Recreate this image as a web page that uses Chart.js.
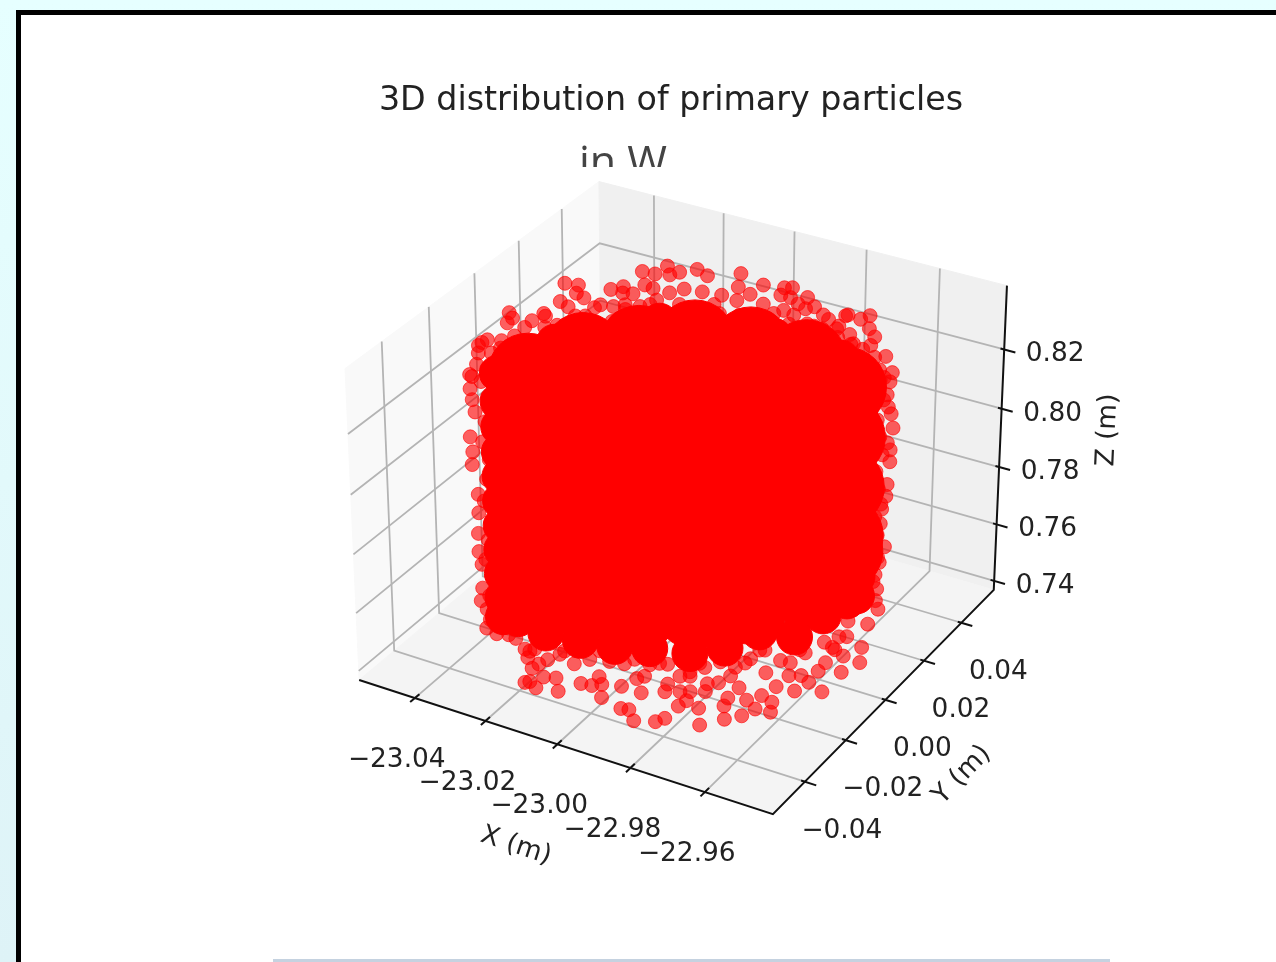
<!DOCTYPE html>
<html>
<head>
<meta charset="utf-8">
<title>3D distribution of primary particles</title>
<script src="https://cdn.jsdelivr.net/npm/chart.js@4"></script>
<style>
html, body { margin: 0; padding: 0; width: 1276px; height: 962px; overflow: hidden; background: linear-gradient(#e6ffff, #def3f7); }
#frame { position: absolute; left: 16px; top: 10px; width: 1260px; height: 952px; box-sizing: border-box; border-left: 5px solid #000; border-top: 5px solid #000; background: #fff; }
#strip { position: absolute; left: 273px; top: 959px; width: 837px; height: 3px; background: #c5d2e0; }
#particles { position: absolute; left: 0; top: 0; filter: blur(0.6px); }
</style>
</head>
<body>
<div id="frame"></div>
<div id="strip"></div>
<canvas id="particles" width="1276" height="962"></canvas>
<script>
// axis limits and ticks
const xLim = [-23.056, -22.942];
const yLim = [-0.0552, 0.0578];
const zLim = [0.7368, 0.8412];
const xTicks = [-23.04, -23.02, -23.00, -22.98, -22.96];
const yTicks = [-0.04, -0.02, 0.00, 0.02, 0.04];
const zTicks = [0.74, 0.76, 0.78, 0.80, 0.82];

// sparse particles round the outside of the cloud
const particleX = [
  -23.0471,-23.0437,-23.0419,-23.0390,-23.0430,-23.0399,-23.0341,-23.0359,-23.0507,-23.0485,-23.0483,-23.0432,-23.0437,-23.0372,-23.0482,-23.0478,-23.0481,
  -23.0428,-23.0432,-23.0338,-23.0304,-23.0299,-23.0270,-23.0356,-23.0337,-23.0321,-23.0297,-23.0296,-23.0269,-23.0304,-23.0271,-23.0248,-23.0230,-23.0222,
  -23.0221,-23.0267,-23.0226,-23.0187,-23.0256,-23.0121,-23.0043,-22.9991,-22.9974,-22.9953,-22.9980,-23.0047,-23.0091,-23.0059,-23.0201,-23.0155,-23.0105,
  -22.9917,-22.9893,-22.9879,-22.9791,-22.9740,-22.9751,-22.9710,-22.9679,-22.9737,-22.9707,-22.9667,-22.9935,-22.9948,-22.9950,-23.0016,-22.9818,-22.9778,
  -23.0439,-23.0424,-23.0389,-23.0368,-23.0439,-23.0435,-23.0430,-23.0441,-23.0439,-23.0437,-23.0428,-23.0428,-23.0430,-23.0430,-23.0424,-23.0424,-23.0428,-23.0410,-23.0418,-23.0397,-23.0372,
  -22.9588,-22.9574,-22.9578,-22.9600,-22.9642,-22.9583,-22.9580,-22.9574,-22.9569,-22.9580,-22.9574,-22.9574,-22.9578,-22.9580,-22.9588,-22.9590,-22.9580,-22.9594,-22.9598,-22.9594,-22.9590,-22.9611,
  -23.0230,-23.0204,-23.0158,-23.0170,-23.0152,-23.0117,-23.0144,-23.0098,-23.0063,-23.0034,-23.0007,-22.9960,-22.9989,-22.9944,-22.9930,-22.9889,-22.9896,-22.9877,-22.9843,
  -22.9797,-22.9785,-22.9854,-22.9784,-22.9978,-22.9898,-23.0154,-22.9738,-22.9700,-22.9779,-22.9773,-22.9752,-22.9700,-22.9691,-22.9662,-22.9699,-22.9657,-22.9634,-22.9621,
  -22.9636,-22.9601,-22.9583,-22.9625,-22.9578,-22.9567,-22.9520,-22.9571,-22.9622,-22.9676,-22.9727,-22.9738,-22.9794,-22.9521,-22.9551,-22.9592,-22.9585,-22.9503,-22.9531,
  -23.0403,-23.0356,-23.0331,-23.0306,-23.0273,-23.0231,-23.0196,-23.0169,-23.0140,-23.0092,-23.0175,-23.0137,-23.0100,-23.0062,-23.0003,-22.9853,-22.9930,-22.9889,-22.9750,-22.9719,-22.9687,-22.9660,-22.9636,-22.9611,-22.9598,
  -23.0416,-23.0403,-23.0410,-23.0416,-23.0403,-23.0410,-23.0416,-23.0403,-23.0410,-23.0416,-23.0403,-23.0410,-23.0416,
  -22.9590,-22.9602,-22.9596,-22.9590,-22.9602,-22.9596,-22.9590,-22.9602,-22.9596,-22.9590,-22.9602,-22.9596,
  -23.0275,-23.0210,-23.0145,-23.0071,-23.0025,-22.9934,-22.9835,-22.9814,-22.9751,-22.9672,-22.9637,-22.9620,-22.9601,-22.9616,-22.9621,
  -23.0336,-23.0284,-23.0232,-23.0170,-23.0097,-22.9994,-22.9921,
  -23.0421,-23.0338,-23.0224,-23.0162,-23.0100,-22.9985,-22.9902,-22.9840,-22.9788,
  -23.0434,-23.0392,-23.0340,-23.0278,-23.0174,-23.0091,-23.0008,-22.9905,-22.9832,-22.9780,
  -23.0393,-23.0434,-23.0372,-23.0420,-22.9619,-22.9590,
  -23.0215,-23.0143,-23.0070,-22.9987,-22.9904,-22.9821,-22.9738,-22.9655,-22.9582,
  -23.0166,-23.0093,-22.9989,-22.9917,-22.9834,-22.9740,-22.9647,-22.9574,
  -23.0126,-23.0012,-22.9919,-22.9846,-22.9825,-22.9742,-22.9597,
  -22.9843,-22.9812,-22.9791,-22.9760
];
const particleY = [
  0.0267,0.0275,0.0236,0.0224,0.0179,0.0165,0.0193,0.0133,0.0068,0.0048,0.0021,0.0106,0.0060,0.0070,-0.0094,-0.0076,-0.0111,
  -0.0096,-0.0027,0.0416,0.0420,0.0472,0.0434,0.0295,0.0323,0.0293,0.0302,0.0357,0.0351,0.0221,0.0222,0.0253,0.0302,0.0351,
  0.0158,0.0153,0.0493,0.0476,0.0458,0.0527,0.0501,0.0514,0.0524,0.0476,0.0476,0.0442,0.0461,0.0397,0.0386,0.0395,0.0403,
  0.0497,0.0443,0.0463,0.0459,0.0489,0.0461,0.0429,0.0398,0.0379,0.0342,0.0355,0.0409,0.0383,0.0354,0.0333,0.0422,0.0389,
  -0.0216,-0.0208,-0.0187,-0.0175,-0.0216,-0.0214,-0.0211,-0.0218,-0.0216,-0.0215,-0.0210,-0.0210,-0.0211,-0.0211,-0.0208,-0.0208,-0.0210,-0.0199,-0.0204,-0.0192,-0.0177,
  0.0281,0.0290,0.0287,0.0274,0.0250,0.0284,0.0286,0.0290,0.0292,0.0286,0.0290,0.0290,0.0287,0.0286,0.0281,0.0280,0.0286,0.0278,0.0275,0.0278,0.0280,0.0268,
  -0.0325,-0.0354,-0.0338,-0.0389,-0.0450,-0.0457,-0.0441,-0.0397,-0.0444,-0.0388,-0.0383,-0.0416,-0.0367,-0.0351,-0.0304,-0.0352,-0.0434,-0.0429,-0.0464,
  -0.0442,-0.0419,-0.0288,-0.0358,-0.0233,-0.0213,-0.0240,-0.0342,-0.0403,-0.0328,-0.0240,-0.0223,-0.0270,-0.0304,-0.0353,-0.0218,-0.0256,-0.0320,-0.0279,
  -0.0221,-0.0234,-0.0273,-0.0170,-0.0165,-0.0115,-0.0136,-0.0061,-0.0113,-0.0129,-0.0042,-0.0093,-0.0141,-0.0038,0.0028,0.0049,0.0109,0.0022,0.0084,
  -0.0196,-0.0168,-0.0153,-0.0139,-0.0119,-0.0095,-0.0074,-0.0058,-0.0041,-0.0014,0.0223,0.0229,0.0284,0.0317,0.0286,0.0126,0.0328,0.0353,0.0187,0.0205,0.0223,0.0239,0.0254,0.0268,0.0275,
  -0.0203,-0.0196,-0.0199,-0.0203,-0.0196,-0.0199,-0.0203,-0.0196,-0.0199,-0.0203,-0.0196,-0.0199,-0.0203,
  0.0280,0.0273,0.0277,0.0280,0.0273,0.0277,0.0280,0.0273,0.0277,0.0280,0.0273,0.0277,
  -0.0295,-0.0313,-0.0303,-0.0287,-0.0271,-0.0236,-0.0215,-0.0181,-0.0144,-0.0064,-0.0005,0.0060,0.0099,0.0173,0.0253,
  0.0213,0.0243,0.0274,0.0310,0.0352,0.0413,0.0456,
  0.0096,0.0145,0.0211,0.0248,0.0284,0.0351,0.0400,0.0436,0.0466,
  0.0022,0.0046,0.0076,0.0113,0.0174,0.0222,0.0271,0.0331,0.0374,0.0404,
  -0.0190,-0.0214,-0.0177,-0.0205,0.0263,0.0280,
  -0.0327,-0.0285,-0.0242,-0.0194,-0.0145,-0.0096,-0.0048,0.0001,0.0043,
  -0.0365,-0.0322,-0.0262,-0.0219,-0.0171,-0.0116,-0.0061,-0.0019,
  -0.0408,-0.0341,-0.0286,-0.0244,-0.0232,-0.0183,-0.0098,
  -0.0320,-0.0302,-0.0290,-0.0272
];
const particleZ = [
  0.826,0.826,0.826,0.826,0.826,0.826,0.826,0.826,0.826,0.826,0.826,0.826,0.826,0.826,0.826,0.826,0.826,
  0.826,0.826,0.826,0.826,0.826,0.826,0.826,0.826,0.826,0.826,0.826,0.826,0.826,0.826,0.826,0.826,0.826,
  0.826,0.826,0.826,0.826,0.826,0.826,0.826,0.826,0.826,0.826,0.826,0.826,0.826,0.826,0.826,0.826,0.826,
  0.826,0.826,0.826,0.826,0.826,0.826,0.826,0.826,0.826,0.826,0.826,0.826,0.826,0.826,0.826,0.826,0.826,
  0.8238,0.8272,0.8258,0.8272,0.8191,0.8155,0.8114,0.8031,0.7937,0.7980,0.7836,0.7773,0.7702,0.7639,0.7595,0.7512,0.7468,0.7401,0.7371,0.7351,0.7347,
  0.8292,0.8238,0.8208,0.8248,0.8272,0.8165,0.8124,0.8101,0.8054,0.8004,0.7980,0.7940,0.7863,0.7823,0.7779,0.7729,0.7649,0.7612,0.7552,0.7502,0.7431,0.7378,
  0.745,0.745,0.745,0.745,0.745,0.745,0.745,0.745,0.745,0.745,0.745,0.745,0.745,0.745,0.745,0.745,0.745,0.745,0.745,
  0.745,0.745,0.745,0.745,0.745,0.745,0.745,0.745,0.745,0.745,0.745,0.745,0.745,0.745,0.745,0.745,0.745,0.745,0.745,
  0.745,0.745,0.745,0.745,0.745,0.745,0.745,0.745,0.745,0.745,0.745,0.745,0.745,0.745,0.745,0.745,0.745,0.745,0.745,
  0.8258,0.8292,0.8339,0.8315,0.8339,0.8366,0.8392,0.8382,0.8399,0.8409,0.826,0.826,0.826,0.826,0.826,0.8396,0.826,0.826,0.8399,0.8382,0.8355,0.8332,0.8315,0.8289,0.8215,
  0.8215,0.8165,0.8081,0.8014,0.7954,0.7887,0.7813,0.7739,0.7679,0.7612,0.7552,0.7485,0.7438,
  0.8148,0.8081,0.8024,0.7964,0.7907,0.7846,0.7796,0.7753,0.7689,0.7595,0.7528,0.7461,
  0.745,0.745,0.745,0.745,0.745,0.745,0.745,0.745,0.745,0.745,0.745,0.745,0.745,0.745,0.745,
  0.826,0.826,0.826,0.826,0.826,0.826,0.826,
  0.826,0.826,0.826,0.826,0.826,0.826,0.826,0.826,0.826,
  0.826,0.826,0.826,0.826,0.826,0.826,0.826,0.826,0.826,0.826,
  0.8309,0.8232,0.8349,0.8309,0.8242,0.8222,
  0.745,0.745,0.745,0.745,0.745,0.745,0.745,0.745,0.745,
  0.745,0.745,0.745,0.745,0.745,0.745,0.745,0.745,
  0.745,0.745,0.745,0.745,0.745,0.745,0.745,
  0.745,0.745,0.745,0.745
];

// packed rim of the cloud, overlapping particles read as one mass
const rimX = [
  -23.0382,-23.0382,-23.0382,-23.0382,-23.0382,-23.0382,-23.0382,-23.0382,-23.0382,-23.0382,-23.0382,
  -22.9636,-22.9636,-22.9636,-22.9636,-22.9636,-22.9636,-22.9636,-22.9636,-22.9636,-22.9636,
  -23.0366,-23.0332,-23.0272,-23.0223,-23.0168,-23.0090,-22.9977,-22.9888,-22.9808,-22.9698,
  -23.0351,-23.0225,-23.0135,-23.0049,-22.9971,-22.9876,-22.9815,-22.9779,-22.9694,-22.9680,-22.9656
];
const rimY = [
  -0.0183,-0.0183,-0.0183,-0.0183,-0.0183,-0.0183,-0.0183,-0.0183,-0.0183,-0.0183,-0.0183,
  0.0253,0.0253,0.0253,0.0253,0.0253,0.0253,0.0253,0.0253,0.0253,0.0253,
  -0.0093,-0.0007,0.0056,0.0140,0.0211,0.0268,0.0267,0.0280,0.0310,0.0264,
  -0.0165,-0.0238,-0.0225,-0.0207,-0.0174,-0.0145,-0.0082,0.0023,0.0045,0.0164,0.0241
];
const rimZ = [
  0.8242,0.8148,0.8064,0.7980,0.7897,0.7813,0.7729,0.7646,0.7562,0.7478,0.7411,
  0.8215,0.8131,0.8047,0.7964,0.7880,0.7796,0.7713,0.7629,0.7545,0.7478,
  0.826,0.826,0.826,0.826,0.826,0.826,0.826,0.826,0.826,0.826,
  0.7404,0.745,0.745,0.745,0.745,0.745,0.745,0.745,0.745,0.745,0.7461
];

// solid middle of the cloud
const coreX = [
  -23.0320,-23.0320,-23.0320,-23.0320,-23.0320,-23.0320,
  -23.0206,-23.0206,-23.0206,-23.0206,-23.0206,-23.0206,
  -23.0092,-23.0092,-23.0092,-23.0092,-23.0092,-23.0092,-23.0092,
  -22.9978,-22.9978,-22.9978,-22.9978,-22.9978,-22.9978,-22.9978,
  -22.9864,-22.9864,-22.9864,-22.9864,-22.9864,-22.9864,-22.9864,
  -22.9750,-22.9750,-22.9750,-22.9750,-22.9750,-22.9750,
  -22.9667,-22.9667,-22.9667,-22.9667,-22.9667
];
const coreY = [
  -0.0147,-0.0147,-0.0147,-0.0147,-0.0147,-0.0147,
  -0.0080,-0.0080,-0.0080,-0.0080,-0.0080,-0.0080,
  -0.0014,-0.0014,-0.0014,-0.0014,-0.0014,-0.0014,-0.0014,
  0.0053,0.0053,0.0053,0.0053,0.0053,0.0053,0.0053,
  0.0120,0.0120,0.0120,0.0120,0.0120,0.0120,0.0120,
  0.0187,0.0187,0.0187,0.0187,0.0187,0.0187,
  0.0235,0.0235,0.0235,0.0235,0.0235
];
const coreZ = [
  0.8242,0.8074,0.7907,0.7739,0.7572,0.7502,
  0.8309,0.8141,0.7974,0.7806,0.7639,0.7468,
  0.8332,0.8165,0.7997,0.7830,0.7662,0.7495,0.7435,
  0.8349,0.8181,0.8014,0.7846,0.7679,0.7512,0.7435,
  0.8325,0.8158,0.7990,0.7823,0.7656,0.7488,0.7451,
  0.8282,0.8114,0.7947,0.7779,0.7612,0.7518,
  0.8191,0.8024,0.7856,0.7689,0.7636
];

// mplot3d style camera, the box is 4:4:3
const elev = 30 * Math.PI / 180;
const azim = -60 * Math.PI / 180;
const dist = 10;
const boxSize = [1.124, 1.124, 0.843];
const eye = [Math.cos(elev) * Math.cos(azim), Math.cos(elev) * Math.sin(azim), Math.sin(elev)];
const right = [-Math.sin(azim), Math.cos(azim), 0];
const up = [eye[1] * right[2] - eye[2] * right[1], eye[2] * right[0] - eye[0] * right[2], eye[0] * right[1] - eye[1] * right[0]];

function dot(a, b) {
    return a[0] * b[0] + a[1] * b[1] + a[2] * b[2];
}

function project(x, y, z) {
    const p = [
        ((x - xLim[0]) / (xLim[1] - xLim[0]) - 0.5) * boxSize[0],
        ((y - yLim[0]) / (yLim[1] - yLim[0]) - 0.5) * boxSize[1],
        ((z - zLim[0]) / (zLim[1] - zLim[0]) - 0.5) * boxSize[2]
    ];
    const w = dist - dot(p, eye);
    return { x: dot(p, right) / w, y: dot(p, up) / w };
}

function cloud(xs, ys, zs) {
    return xs.map((x, i) => project(x, ys[i], zs[i]));
}

const datasets = [];

function addLine(points, color, width) {
    datasets.push({
        data: points.map(p => project(p[0], p[1], p[2])),
        showLine: true,
        borderColor: color,
        borderWidth: width,
        pointRadius: 0,
        order: 100 - datasets.length
    });
}

function addPane(points, color) {
    datasets.push({
        data: points.map(p => project(p[0], p[1], p[2])),
        showLine: true,
        fill: 'shape',
        backgroundColor: color,
        borderColor: color,
        borderWidth: 1,
        pointRadius: 0,
        order: 100 - datasets.length
    });
}

function addCloud(xs, ys, zs, radius, color) {
    datasets.push({
        data: cloud(xs, ys, zs),
        showLine: false,
        pointRadius: radius,
        pointBorderWidth: 1,
        pointBackgroundColor: color,
        pointBorderColor: color,
        order: 100 - datasets.length
    });
}

const [x0, x1] = xLim;
const [y0, y1] = yLim;
const [z0, z1] = zLim;

// panes
addPane([[x0, y0, z0], [x0, y1, z0], [x0, y1, z1], [x0, y0, z1], [x0, y0, z0]], '#f9f9f9');
addPane([[x0, y1, z0], [x1, y1, z0], [x1, y1, z1], [x0, y1, z1], [x0, y1, z0]], '#f0f0f0');
addPane([[x0, y0, z0], [x1, y0, z0], [x1, y1, z0], [x0, y1, z0], [x0, y0, z0]], '#f4f4f4');

// grid
const gridColor = '#b4b4b4';
xTicks.forEach(t => {
    addLine([[t, y0, z0], [t, y1, z0], [t, y1, z1]], gridColor, 1.8);
});
yTicks.forEach(t => {
    addLine([[x1, t, z0], [x0, t, z0], [x0, t, z1]], gridColor, 1.8);
});
zTicks.forEach(t => {
    addLine([[x0, y0, t], [x0, y1, t], [x1, y1, t]], gridColor, 1.8);
});

// axis lines and tick marks
addLine([[x0, y0, z0], [x1, y0, z0], [x1, y1, z0], [x1, y1, z1]], '#111', 2);
xTicks.forEach(t => {
    addLine([[t, y0 - 0.002, z0], [t, y0 + 0.002, z0]], '#111', 2);
});
yTicks.forEach(t => {
    addLine([[x1 - 0.001, t, z0], [x1 + 0.003, t, z0]], '#111', 2);
});
zTicks.forEach(t => {
    addLine([[x1 - 0.001, y1, t], [x1 + 0.003, y1, t]], '#111', 2);
});

// the particles
addCloud(coreX, coreY, coreZ, 40, '#ff0000');
addCloud(rimX, rimY, rimZ, 18, '#ff0000');
addCloud(particleX, particleY, particleZ, 7, 'rgba(255,0,0,0.62)');

// tick labels, axis labels and the two titles
const tickFont = '26.4px "DejaVu Sans"';
const labelPlugin = {
    id: 'labels3d',
    afterDraw(chart) {
        const ctx = chart.ctx;
        const sx = chart.scales.x;
        const sy = chart.scales.y;
        const put = (text, px, py, font, color, angle) => {
            ctx.save();
            ctx.translate(px, py);
            ctx.rotate((angle || 0) * Math.PI / 180);
            ctx.font = font;
            ctx.fillStyle = color;
            ctx.textAlign = 'center';
            ctx.textBaseline = 'middle';
            ctx.fillText(text, 0, 0);
            ctx.restore();
        };
        const tickLabel = (value, p, dx, dy) => {
            const text = value.toFixed(2).replace('-', '\u2212');
            put(text, sx.getPixelForValue(p.x) + dx, sy.getPixelForValue(p.y) + dy, tickFont, '#222');
        };
        xTicks.forEach(t => tickLabel(t, project(t, y0, z0), -18, 62));
        yTicks.forEach(t => tickLabel(t, project(x1, t, z0), 37, 49));
        zTicks.forEach(t => tickLabel(t, project(x1, y1, t), 51, 5));

        put('X (m)', 516, 846, tickFont, '#222', 18.3);
        put('Y (m)', 962, 775, tickFont, '#222', -45.8);
        put('Z (m)', 1108, 430, tickFont, '#222', -87.4);

        put('3D distribution of primary particles', 671, 101, '33.3px "DejaVu Sans"', '#222');

        // second title line is cut off by the plot in the original
        ctx.save();
        ctx.beginPath();
        ctx.rect(500, 120, 300, 47);
        ctx.clip();
        put('in W', 623, 165, '43px "Open Sans"', '#444');
        ctx.restore();
    }
};

new Chart(document.getElementById('particles'), {
    type: 'scatter',
    data: { datasets: datasets },
    plugins: [labelPlugin],
    options: {
        responsive: false,
        animation: false,
        layout: { padding: 0, autoPadding: false },
        plugins: {
            legend: { display: false },
            tooltip: { enabled: false }
        },
        scales: {
            x: { type: 'linear', display: false, min: -682 / 4219, max: 594 / 4219 },
            y: { type: 'linear', display: false, min: -478.5 / 4215, max: 483.5 / 4215 }
        }
    }
});
</script>
</body>
</html>
